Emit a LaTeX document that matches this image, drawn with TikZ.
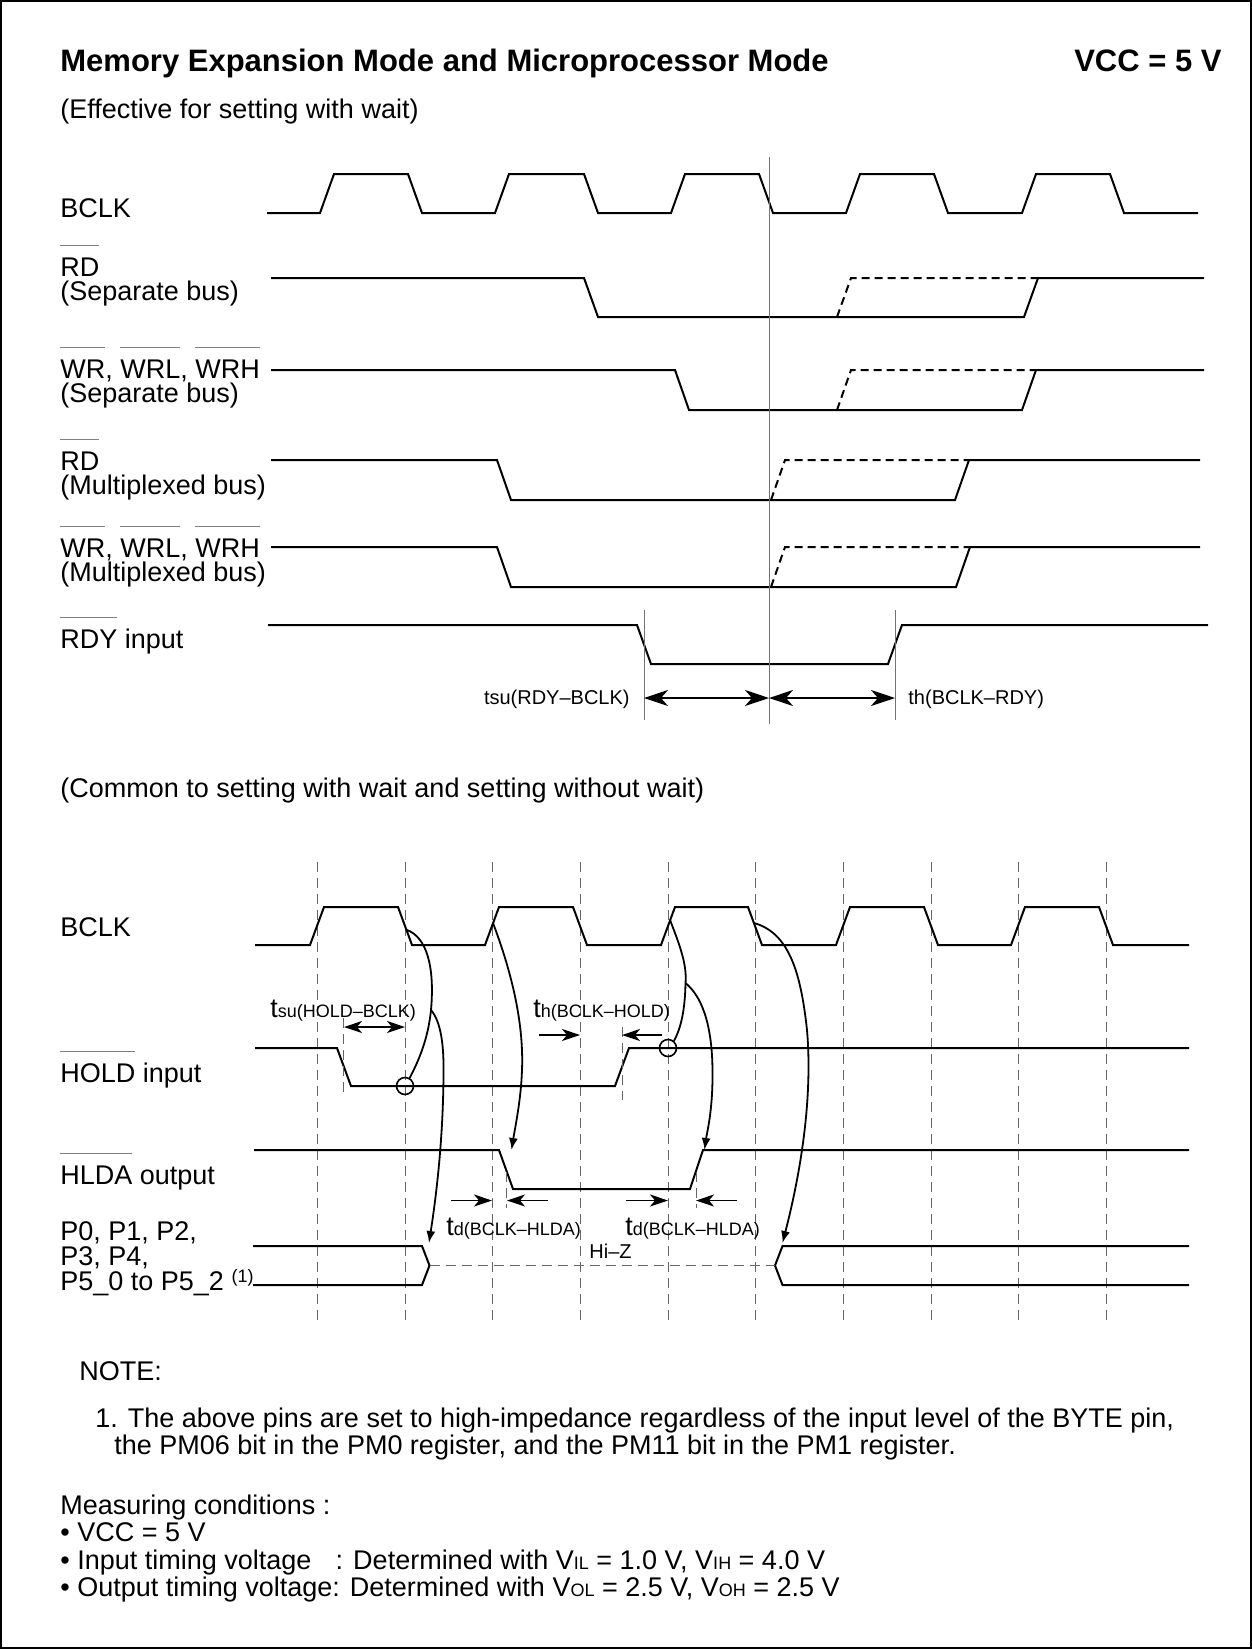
\documentclass[tikz,border=0pt]{standalone}
\usepackage{fontspec}
\setmainfont{Liberation Sans}
\usetikzlibrary{arrows.meta}
\newcommand{\sigfnt}{\fontsize{13.5}{25.5}\selectfont}
\newcommand{\dimfnt}{\fontsize{10}{12}\selectfont}
\newcommand{\idxfnt}{\fontsize{9}{11}\selectfont}
\newcommand{\ovl}[1]{\begingroup\sbox0{#1}\rlap{\color{black!50}\rule[1.12em]{\wd0}{0.5pt}}\usebox0\endgroup}
\tikzset{
  sig/.style={line width=1pt},
  ghost/.style={line width=1pt, dash pattern=on 4pt off 2.5pt},
  guide/.style={black!60, line width=0.5pt, dash pattern=on 5pt off 3pt},
  vline/.style={black!55, line width=0.5pt},
  sigtext/.style={anchor=base west, inner sep=0pt, font=\sigfnt},
  bigdim/.style={line width=0.6pt, {Stealth[length=12pt,width=8pt,inset=3.5pt]}-{Stealth[length=12pt,width=8pt,inset=3.5pt]}},
  smalldim/.style={line width=0.6pt, -{Stealth[length=9pt,width=6pt,inset=2.5pt]}},
  curve/.style={line width=0.9pt},
  cause/.style={curve, -{Latex[length=6pt,width=4.5pt]}},
  ring/.style={circle, draw, line width=0.8pt, minimum size=8.5pt, inner sep=0pt},
}
\begin{document}
\begin{tikzpicture}[x=0.5pt, y=-0.5pt]
\useasboundingbox (0,0) rectangle (1252,1649);
\draw[line width=0.8pt] (1,1) rectangle (1251,1648);

% heading
\node[anchor=base west, inner sep=0pt, font=\bfseries\fontsize{15.5}{18}\selectfont] (title) at (60,71) {Memory Expansion Mode and Microprocessor Mode};
\node[anchor=base east, inner sep=0pt, font=\bfseries\fontsize{15.5}{18}\selectfont] (vcc) at (1222,71) {VCC = 5 V};
\node[sigtext] (wait) at (60,118) {(Effective for setting with wait)};

% upper signal names
\node[sigtext] (bclkA) at (60,217) {BCLK};
\node[sigtext] (rdS) at (60,276) {\ovl{RD}};
\node[sigtext] (rdSbus) at (60,300) {(Separate bus)};
\node[sigtext] (wrS) at (60,378) {\ovl{WR}, \ovl{WRL}, \ovl{WRH}};
\node[sigtext] (wrSbus) at (60,402) {(Separate bus)};
\node[sigtext] (rdM) at (60,470) {\ovl{RD}};
\node[sigtext] (rdMbus) at (60,494) {(Multiplexed bus)};
\node[sigtext] (wrM) at (60,557) {\ovl{WR}, \ovl{WRL}, \ovl{WRH}};
\node[sigtext] (wrMbus) at (60,581) {(Multiplexed bus)};
\node[sigtext] (rdy) at (60,648) {\ovl{RDY} input};

% upper waveforms
\draw[sig] (267,213)--(320,213)--(334,174)--(408,174)--(422,213)--(495,213)--(509,174)--(584,174)--(598,213)--(671,213)--(685,174)--(759,174)--(773,213)--(846,213)--(860,174)--(934,174)--(948,213)--(1022,213)--(1036,174)--(1110,174)--(1124,213)--(1198,213);
\draw[sig] (271,278)--(584,278)--(598,317)--(1024,317)--(1038,278)--(1204,278);
\draw[ghost] (837,317)--(851,278)--(1038,278);
\draw[sig] (271,370)--(675,370)--(689,410)--(1022,410)--(1036,370)--(1204,370);
\draw[ghost] (837,410)--(851,370)--(1036,370);
\draw[sig] (271,460)--(497,460)--(511,500)--(955,500)--(969,460)--(1200,460);
\draw[ghost] (771,500)--(785,460)--(969,460);
\draw[sig] (271,547)--(497,547)--(511,587)--(956,587)--(970,547)--(1200,547);
\draw[ghost] (771,587)--(785,547)--(970,547);
\draw[sig] (268,625)--(637,625)--(651,664)--(888,664)--(902,625)--(1208,625);
\draw[vline] (769,157)--(769,724);
\draw[vline] (644,610)--(644,720);
\draw[vline] (895,610)--(895,720);

% RDY setup / hold
\coordinate (suRdy) at (644,698);
\coordinate (edge) at (769,698);
\coordinate (hRdy) at (895,698);
\draw[bigdim] (suRdy) -- (edge);
\draw[bigdim] (edge) -- (hRdy);
\node[anchor=east, inner sep=0pt, font=\dimfnt] (tsuRdy) at (630,699) {tsu(RDY–BCLK)};
\node[anchor=west, inner sep=0pt, font=\dimfnt] (thRdy) at (908,699) {th(BCLK–RDY)};

% lower part
\node[sigtext] (common) at (60,797) {(Common to setting with wait and setting without wait)};
\node[sigtext] (bclkB) at (60,936) {BCLK};
\node[sigtext] (hold) at (60,1082) {\ovl{HOLD} input};
\node[sigtext] (hlda) at (60,1184) {\ovl{HLDA} output};
\node[sigtext] (portA) at (60,1240) {P0, P1, P2,};
\node[sigtext] (portB) at (60,1265) {P3, P4,};
\node[sigtext] (portC) at (60,1290) {P5\_0 to P5\_2 \raisebox{0.55ex}{\idxfnt (1)}};

\draw[guide] (317,862)--(317,1325) (405,862)--(405,1325) (492,862)--(492,1325) (580,862)--(580,1325) (668,862)--(668,1325) (755,862)--(755,1325) (843,862)--(843,1325) (931,862)--(931,1325) (1018,862)--(1018,1325) (1106,862)--(1106,1325);

\draw[sig] (255,945)--(310,945)--(324,907)--(398,907)--(412,945)--(485,945)--(499,907)--(573,907)--(587,945)--(661,945)--(675,907)--(748,907)--(762,945)--(836,945)--(850,907)--(924,907)--(938,945)--(1011,945)--(1025,907)--(1099,907)--(1113,945)--(1189,945);
\draw[sig] (255,1048)--(337,1048)--(351,1086)--(615,1086)--(629,1048)--(1189,1048);
\draw[sig] (254,1150)--(499,1150)--(513,1189)--(690,1189)--(703,1150)--(1189,1150);
\draw[sig] (253,1246)--(422,1246)--(429.5,1265.5)--(422,1285)--(253,1285);
\draw[sig] (1189,1246)--(782.5,1246)--(775,1265.5)--(782.5,1285)--(1189,1285);
\draw[guide] (429.5,1265.5)--(775,1265.5);
\draw[guide] (343,1018)--(343,1095) (622,1027)--(622,1100) (506,1172)--(506,1208) (696,1172)--(696,1208);

% HOLD setup / hold
\coordinate (suHoldA) at (344,1027);
\coordinate (suHoldB) at (405,1027);
\draw[line width=0.6pt, {Stealth[length=9pt,width=6pt,inset=2.5pt]}-{Stealth[length=9pt,width=6pt,inset=2.5pt]}] (suHoldA) -- (suHoldB);
\node[anchor=base west, inner sep=0pt, font=\sigfnt] (tsuHold) at (270,1017) {t{\idxfnt su(HOLD–BCLK)}};
\coordinate (hHoldA) at (539,1035);
\coordinate (hHoldB) at (580,1035);
\coordinate (hHoldC) at (662,1035);
\coordinate (hHoldD) at (622,1035);
\draw[smalldim] (hHoldA) -- (hHoldB);
\draw[smalldim] (hHoldC) -- (hHoldD);
\node[anchor=base west, inner sep=0pt, font=\sigfnt] (thHold) at (533,1017) {t{\idxfnt h(BCLK–HOLD)}};

% HLDA delays
\coordinate (dA1) at (451,1200.5);
\coordinate (dA2) at (492,1200.5);
\coordinate (dA3) at (548,1200.5);
\coordinate (dA4) at (507,1200.5);
\coordinate (dB1) at (626,1200.5);
\coordinate (dB2) at (668,1200.5);
\coordinate (dB3) at (737,1200.5);
\coordinate (dB4) at (696,1200.5);
\draw[smalldim] (dA1) -- (dA2);
\draw[smalldim] (dA3) -- (dA4);
\draw[smalldim] (dB1) -- (dB2);
\draw[smalldim] (dB3) -- (dB4);
\node[anchor=base west, inner sep=0pt, font=\sigfnt] (tdA) at (446,1235) {t{\idxfnt d(BCLK–HLDA)}};
\node[anchor=base west, inner sep=0pt, font=\sigfnt] (tdB) at (625,1235) {t{\idxfnt d(BCLK–HLDA)}};
\node[anchor=base west, inner sep=0pt, font=\dimfnt] (hiz) at (589,1258) {Hi–Z};

% cause and effect
\node[ring] (r1) at (405,1086) {};
\node[ring] (r2) at (668,1048) {};
\coordinate (k1) at (407,930);
\coordinate (f1) at (431,1010);
\coordinate (p1) at (429,1243);
\coordinate (k2) at (493,923);
\coordinate (p2) at (511.5,1150);
\coordinate (k3) at (670,920);
\coordinate (f2) at (685.5,983);
\coordinate (p3) at (704.5,1150);
\coordinate (k4) at (754,923);
\coordinate (p4) at (782.5,1243);
\draw[curve] (k1) .. controls (426,937) and (435,965) .. (f1) .. controls (428,1040) and (418,1062) .. (r1.60);
\draw[cause] (f1) .. controls (441,1022) and (444,1045) .. (443.5,1075) .. controls (443,1150) and (434,1210) .. (p1);
\draw[cause] (k2) .. controls (510,968) and (524,1020) .. (522,1070) .. controls (521,1100) and (515,1128) .. (p2);
\draw[curve] (k3) .. controls (681,948) and (687,966) .. (f2) .. controls (685,1010) and (681,1028) .. (r2.50);
\draw[cause] (f2) .. controls (700,995) and (712,1020) .. (712.5,1070) .. controls (713,1110) and (707,1132) .. (p3);
\draw[cause] (k4) .. controls (790,933) and (801,975) .. (807,1030) .. controls (813,1100) and (800,1175) .. (p4);

% notes
\node[sigtext] (note) at (79,1380) {NOTE:};
\node[sigtext] (noteA) at (95,1427) {1. The above pins are set to high-impedance regardless of the input level of the BYTE pin,};
\node[sigtext] (noteB) at (114,1454) {the PM06 bit in the PM0 register, and the PM11 bit in the PM1 register.};
\node[sigtext] (meas) at (60,1514) {Measuring conditions :};
\node[sigtext] (measA) at (60,1541) {• VCC = 5 V};
\node[sigtext] (measB) at (60,1569) {• Input timing voltage\hspace{0.9em}: Determined with V{\idxfnt IL} = 1.0 V, V{\idxfnt IH} = 4.0 V};
\node[sigtext] (measC) at (60,1596) {• Output timing voltage: Determined with V{\idxfnt OL} = 2.5 V, V{\idxfnt OH} = 2.5 V};
\end{tikzpicture}
\end{document}
